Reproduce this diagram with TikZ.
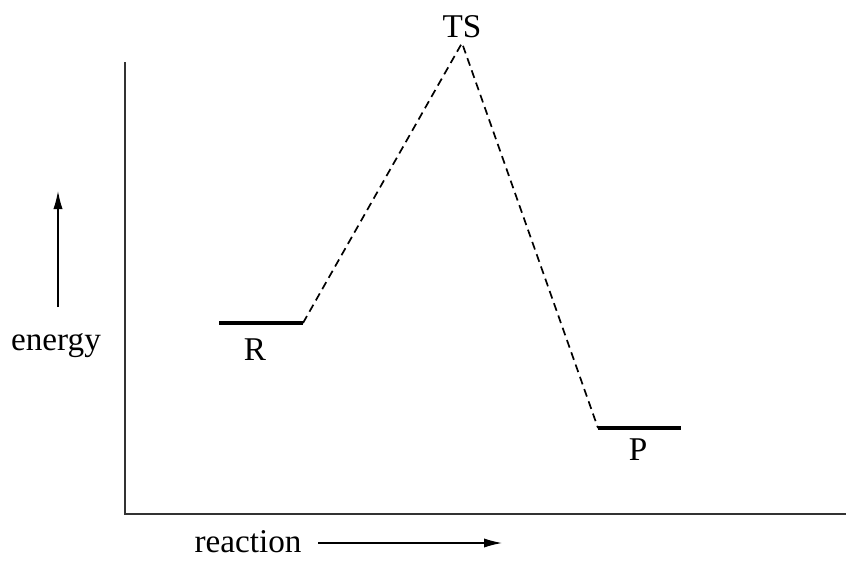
\documentclass[tikz,border=0pt]{standalone}
\usepackage{fontspec}
\setmainfont{Liberation Serif}
\usetikzlibrary{
    positioning,
    arrows.meta
}
\tikzset{
    >={Latex[length=9pt,width=4.6pt]},
    axis/.style={
        line width=1pt,
        draw=black!80
    },
    level/.style={
        line width=2pt
    },
    link/.style={
        dash pattern=on 4pt off 2.5pt,
        line width=0.85pt
    },
    lbl/.style={
        font=\fontsize{16.6}{20}\selectfont,
        inner sep=0pt,
        anchor=base
    }
}
\begin{document}
\begin{tikzpicture}[
    x=0.5pt,
    y=-0.5pt
]
    \useasboundingbox (0,0) rectangle (846,562);

    % Ejes
    \coordinate (o)    at (125,514);
    \coordinate (ytop) at (125,62);
    \coordinate (xend) at (846,514);
    \draw[axis] (ytop) -- (o) -- (xend);

    % Niveles
    \coordinate (r1) at (219,323);
    \coordinate (r2) at (303,323);
    \coordinate (ts) at (462,43);
    \coordinate (p1) at (598,428);
    \coordinate (p2) at (681,428);
    \draw[level] (r1) -- (r2);
    \draw[level] (p1) -- (p2);
    \draw[link] (r2) -- (ts) -- (p1);

    % Etiquetas
    \node[lbl] (R)  at (255,360) {R};
    \node[lbl] (P)  at (638,460) {P};
    \node[lbl] (TS) at (462,37)  {TS};
    \node[lbl] (en) at (56,350)  {energy};
    \node[lbl] (re) at (248,552) {reaction};

    % Flechas
    \coordinate (e1) at (58,307);
    \coordinate (e2) at (58,191);
    \coordinate (a1) at (318,543);
    \coordinate (a2) at (502,543);
    \draw[->, line width=0.6pt] (e1) -- (e2);
    \draw[->, line width=0.6pt] (a1) -- (a2);

\end{tikzpicture}
\end{document}
